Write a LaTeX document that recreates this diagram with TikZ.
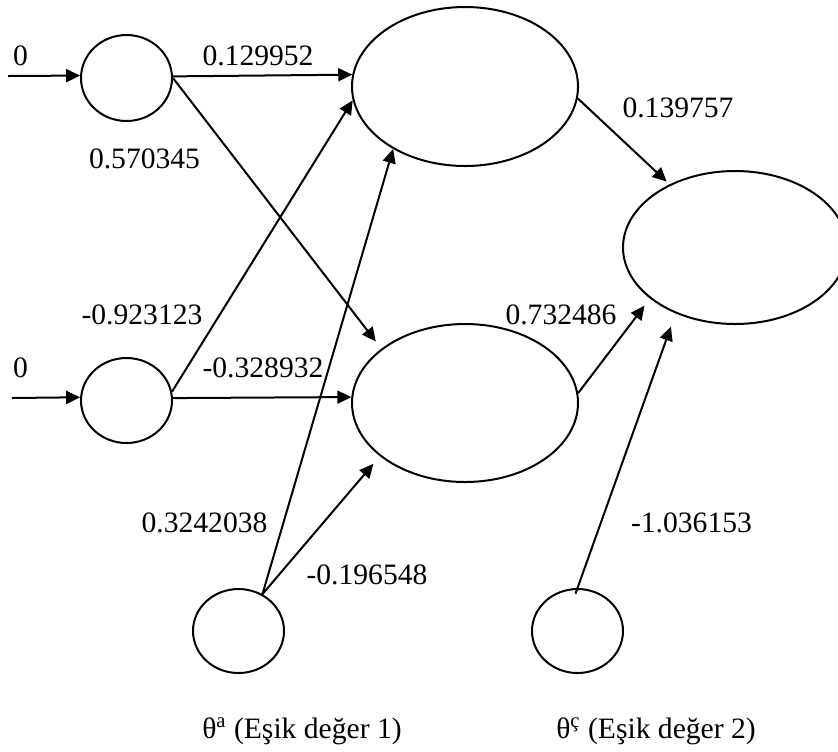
\documentclass[tikz,border=0pt]{standalone}
\usepackage{fontspec}
\setmainfont{Liberation Serif}
\usetikzlibrary{arrows.meta,shapes.geometric}
\begin{document}
\begin{tikzpicture}[x=0.5pt,y=-0.5pt,
  neuron/.style={draw,ellipse,line width=1pt,inner sep=0pt},
  link/.style={line width=1pt,-{Triangle[length=7pt,width=6.5pt]}},
  wlabel/.style={anchor=base,inner sep=0pt,font=\fontsize{14.8}{17}\selectfont}]
\useasboundingbox (0,0) rectangle (838,751);

% input neurons
\node[neuron,minimum width=45.5pt,minimum height=43pt] (in1) at (126.5,78) {};
\node[neuron,minimum width=45.5pt,minimum height=42.5pt] (in2) at (126.5,400.5) {};
% hidden neurons
\node[neuron,minimum width=113pt,minimum height=79.5pt] (h1) at (465,86.5) {};
\node[neuron,minimum width=113pt,minimum height=79pt] (h2) at (465,403) {};
% output neuron
\node[neuron,minimum width=112pt,minimum height=76.5pt] (out) at (735,247.5) {};
% threshold (bias) neurons
\node[neuron,minimum width=45.5pt,minimum height=42pt] (b1) at (238.5,631) {};
\node[neuron,minimum width=45.5pt,minimum height=42pt] (b2) at (577.5,631) {};

% input signals
\coordinate (src1) at (8,76);
\coordinate (src2) at (12,398);
\draw[link] (src1) -- (in1.177.5);
\draw[link] (src2) -- (in2.176.8);

% input -> hidden
\draw[link] (in1.2.5) -- (h1.174.7);
\draw[link,shorten >=4.5pt] (in1.0) -- (h2.147.8);
\draw[link] (in2.11) -- (h1.187.5);
\draw[link] (in2.3) -- (h2.177.5);

% threshold 1 -> hidden
\draw[link] (b1.57.6) -- (h1.221.1);
\draw[link,shorten >=5pt] (b1.57.6) -- (h2.212.7);

% hidden -> output
\draw[link,shorten >=2pt] (h1.354.1) -- (out.136.1);
\draw[link,shorten >=4.5pt] (h2.5.6) -- (out.211.4);

% threshold 2 -> output
\draw[link,shorten >=7pt,shorten <=-3pt] (b2.north) -- (out.228.8);

% weights and labels
\node[wlabel] (x1) at (20.5,65) {0};
\node[wlabel] (x2) at (20.5,377) {0};
\node[wlabel] (w1) at (258,65) {0.129952};
\node[wlabel] (w2) at (144.5,168) {0.570345};
\node[wlabel] (w3) at (142,324) {-0.923123};
\node[wlabel] (w4) at (263,377) {-0.328932};
\node[wlabel] (w5) at (678,117) {0.139757};
\node[wlabel] (w6) at (561,324) {0.732486};
\node[wlabel] (w7) at (204.5,532) {0.3242038};
\node[wlabel] (w8) at (367,584) {-0.196548};
\node[wlabel] (w9) at (691.5,532) {-1.036153};
\node[wlabel] (t1) at (302,738) {θ\textsuperscript{a} (Eşik değer 1)};
\node[wlabel] (t2) at (656,738) {θ\textsuperscript{ç} (Eşik değer 2)};
\end{tikzpicture}
\end{document}
